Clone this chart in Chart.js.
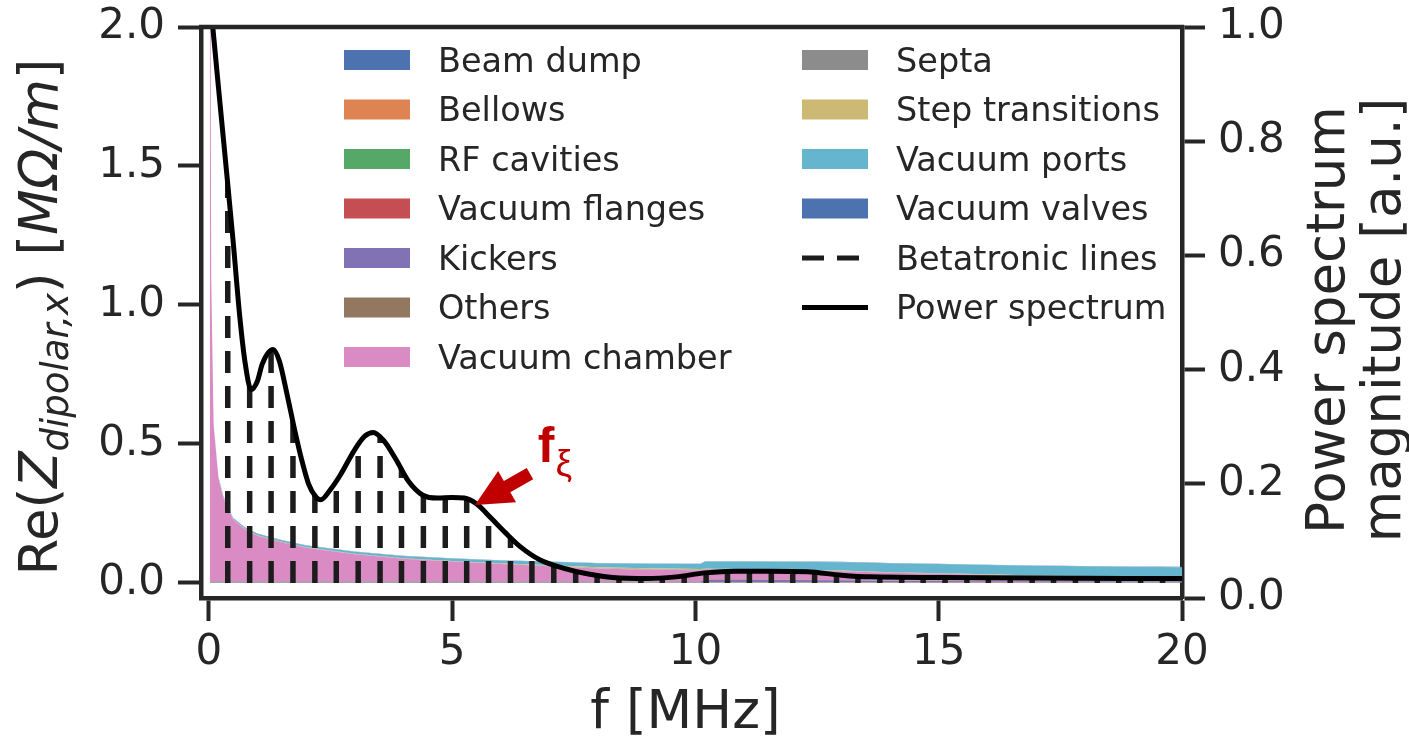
<!DOCTYPE html>
<html>
<head>
<meta charset="utf-8">
<script src="https://cdn.jsdelivr.net/npm/chart.js@4.4.1/dist/chart.umd.min.js"></script>
<style>
  html, body { margin: 0; padding: 0; background: #fff; }
  #wrap { width: 1409px; height: 740px; position: relative; }
</style>
</head>
<body>
<div id="wrap"><canvas id="chart"></canvas></div>
<script>
// impedance contributions, Re(Z) in MOhm/m, stacked in this order
const FREQ         = [0.02, 0.05, 0.1, 0.2, 0.3, 0.5, 0.75, 1, 1.5, 2, 3, 4, 5, 6, 7, 8, 9, 10.1, 10.2, 11, 12, 13, 14, 15, 16, 17, 18, 19, 20];
const BEAM_DUMP    = [0.001, 0.001, 0.001, 0.001, 0.001, 0.001, 0.001, 0.001, 0.001, 0.001, 0.001, 0.001, 0.001, 0.001, 0.001, 0.001, 0.001, 0.001, 0.001, 0.001, 0.001, 0.001, 0.001, 0.001, 0.001, 0.001, 0.001, 0.001, 0.001];
const BELLOWS      = [0.001, 0.001, 0.001, 0.001, 0.001, 0.001, 0.001, 0.001, 0.001, 0.001, 0.001, 0.001, 0.001, 0.001, 0.001, 0.001, 0.001, 0.001, 0.001, 0.001, 0.001, 0.001, 0.001, 0.001, 0.001, 0.001, 0.001, 0.001, 0.001];
const RF_CAVITIES  = [0.001, 0.001, 0.001, 0.001, 0.001, 0.001, 0.001, 0.001, 0.001, 0.001, 0.001, 0.001, 0.001, 0.001, 0.001, 0.001, 0.001, 0.001, 0.001, 0.001, 0.001, 0.001, 0.001, 0.001, 0.001, 0.001, 0.001, 0.001, 0.001];
const VAC_FLANGES  = [0.001, 0.001, 0.001, 0.001, 0.001, 0.001, 0.001, 0.001, 0.001, 0.001, 0.001, 0.001, 0.001, 0.001, 0.001, 0.001, 0.001, 0.001, 0.001, 0.001, 0.001, 0.001, 0.001, 0.001, 0.001, 0.001, 0.001, 0.001, 0.001];
const KICKERS      = [0.001, 0.001, 0.001, 0.001, 0.001, 0.001, 0.001, 0.001, 0.001, 0.001, 0.001, 0.001, 0.001, 0.001, 0.001, 0.001, 0.001, 0.001, 0.008, 0.008, 0.007, 0.006, 0.004, 0.003, 0.002, 0.002, 0.002, 0.002, 0.002];
const OTHERS       = [0.001, 0.001, 0.001, 0.001, 0.001, 0.001, 0.001, 0.001, 0.001, 0.001, 0.001, 0.001, 0.001, 0.001, 0.001, 0.001, 0.001, 0.001, 0.001, 0.001, 0.001, 0.001, 0.001, 0.001, 0.001, 0.001, 0.001, 0.001, 0.001];
const VAC_CHAMBER  = [3.2, 1.09, 0.56, 0.37, 0.30, 0.222, 0.186, 0.164, 0.140, 0.121, 0.097, 0.081, 0.071, 0.062, 0.054, 0.046, 0.042, 0.040, 0.035, 0.034, 0.032, 0.031, 0.028, 0.025, 0.022, 0.018, 0.016, 0.013, 0.012];
const SEPTA        = [0.001, 0.001, 0.001, 0.001, 0.001, 0.001, 0.001, 0.001, 0.001, 0.001, 0.001, 0.001, 0.001, 0.001, 0.001, 0.001, 0.001, 0.001, 0.001, 0.001, 0.001, 0.001, 0.001, 0.001, 0.001, 0.001, 0.001, 0.001, 0.001];
const STEP_TRANS   = [0.001, 0.001, 0.001, 0.001, 0.001, 0.001, 0.001, 0.001, 0.001, 0.001, 0.001, 0.001, 0.001, 0.002, 0.003, 0.004, 0.004, 0.003, 0.002, 0.002, 0.002, 0.002, 0.001, 0.001, 0.001, 0.001, 0.001, 0.001, 0.001];
const VAC_PORTS    = [0.002, 0.002, 0.003, 0.003, 0.004, 0.004, 0.005, 0.005, 0.006, 0.006, 0.007, 0.008, 0.009, 0.010, 0.012, 0.014, 0.016, 0.018, 0.026, 0.027, 0.029, 0.030, 0.032, 0.033, 0.034, 0.035, 0.035, 0.036, 0.036];
const VAC_VALVES   = [0.001, 0.001, 0.001, 0.001, 0.001, 0.001, 0.001, 0.001, 0.001, 0.001, 0.001, 0.001, 0.001, 0.001, 0.001, 0.001, 0.001, 0.001, 0.001, 0.001, 0.001, 0.001, 0.001, 0.001, 0.001, 0.001, 0.001, 0.001, 0.001];

const SERIES_NAMES  = ['Beam dump', 'Bellows', 'RF cavities', 'Vacuum flanges', 'Kickers', 'Others', 'Vacuum chamber', 'Septa', 'Step transitions', 'Vacuum ports', 'Vacuum valves'];
const SERIES_VALUES = [BEAM_DUMP, BELLOWS, RF_CAVITIES, VAC_FLANGES, KICKERS, OTHERS, VAC_CHAMBER, SEPTA, STEP_TRANS, VAC_PORTS, VAC_VALVES];
const SERIES_COLORS = ['#4C72B0', '#DD8452', '#55A868', '#C44E52', '#8172B3', '#937860', '#DA8BC3', '#8C8C8C', '#CCB974', '#64B5CD', '#4C72B0'];

// beam power spectrum, right axis (a.u.)
const SPEC_FREQ = [0.06, 0.2, 0.35, 0.5, 0.64, 0.75, 0.87, 1.0, 1.1, 1.32, 1.45, 1.6, 1.75, 1.9, 2.05, 2.2, 2.3, 2.5, 2.7, 3.0, 3.2, 3.38, 3.6, 3.85, 4.1, 4.4, 4.7, 5.0, 5.25, 5.5, 5.8, 6.1, 6.4, 6.8, 7.3, 7.8, 8.3, 9.0, 9.6, 10.2, 10.8, 11.5, 12.3, 13.0, 13.6, 15, 17, 20];
const SPEC_MAG  = [1.02, 0.893, 0.76, 0.625, 0.49, 0.41, 0.365, 0.38, 0.41, 0.435, 0.415, 0.36, 0.30, 0.245, 0.20, 0.177, 0.172, 0.19, 0.215, 0.26, 0.283, 0.29, 0.275, 0.242, 0.205, 0.18, 0.175, 0.176, 0.175, 0.165, 0.14, 0.114, 0.09, 0.067, 0.052, 0.042, 0.036, 0.034, 0.037, 0.044, 0.047, 0.047, 0.046, 0.040, 0.037, 0.036, 0.035, 0.034];

// betatronic lines (MHz)
const BETATRON_FREQ = [0.39, 0.84, 1.28, 1.73, 2.18, 2.62, 3.07, 3.52, 3.96, 4.41, 4.86, 5.30, 5.75, 6.20, 6.64, 7.09, 7.54, 7.98, 8.43, 8.88, 9.32, 9.77, 10.22, 10.66, 11.11, 11.56, 12.00, 12.45, 12.90, 13.34, 13.79, 14.24, 14.68, 15.13, 15.58, 16.02, 16.47, 16.92, 17.36, 17.81, 18.26, 18.70, 19.15, 19.60];

const X_TICKS  = [0, 5, 10, 15, 20];
const Y_TICKS  = [0, 0.5, 1.0, 1.5, 2.0];
const Y2_TICKS = [0, 0.2, 0.4, 0.6, 0.8, 1.0];

// f_xi marker: arrow tip / tail and label anchor in (MHz, right-axis) coords
const ARROW_TIP  = [5.47, 0.163];
const ARROW_TAIL = [6.6, 0.218];
const LABEL_AT   = [6.76, 0.238];

const INK = '#262626';
const FONT = '"DejaVu Sans"';

const datasets = SERIES_NAMES.map((name, i) => ({
  label: name,
  data: FREQ.map((f, k) => ({ x: f, y: SERIES_VALUES[i][k] })),
  yAxisID: 'y',
  backgroundColor: SERIES_COLORS[i],
  borderColor: SERIES_COLORS[i],
  borderWidth: 0,
  pointRadius: 0,
  fill: i === 0 ? 'origin' : '-1',
  order: 2
}));
datasets.unshift({
  label: 'Power spectrum',
  data: SPEC_FREQ.map((f, k) => ({ x: f, y: SPEC_MAG[k] })),
  yAxisID: 'y1',
  borderColor: '#000',
  borderWidth: 5,
  pointRadius: 0,
  fill: false,
  cubicInterpolationMode: 'monotone',
  order: 0
});

// dashed betatronic lines, clipped under the power spectrum curve
const betatronPlugin = {
  id: 'betatron',
  beforeDatasetDraw(chart, args) {
    if (args.meta.yAxisID !== 'y1') return;
    const { ctx, chartArea, scales } = chart;
    const pts = args.meta.data;
    args.meta.dataset.updateControlPoints(chartArea, 'x');
    const y0 = scales.y.getPixelForValue(0);
    ctx.save();
    ctx.beginPath();
    ctx.rect(chartArea.left, chartArea.top, chartArea.width, chartArea.height);
    ctx.clip();
    ctx.beginPath();
    ctx.moveTo(pts[0].x, pts[0].y);
    for (let i = 1; i < pts.length; i++) {
      const a = pts[i - 1], b = pts[i];
      if (a.cp2x !== undefined && b.cp1x !== undefined) ctx.bezierCurveTo(a.cp2x, a.cp2y, b.cp1x, b.cp1y, b.x, b.y);
      else ctx.lineTo(b.x, b.y);
    }
    ctx.lineTo(pts[pts.length - 1].x, y0);
    ctx.lineTo(pts[0].x, y0);
    ctx.closePath();
    ctx.clip();
    ctx.strokeStyle = '#1c1c1c';
    ctx.lineWidth = 5.5;
    ctx.setLineDash([22, 13]);
    BETATRON_FREQ.forEach(f => {
      const x = scales.x.getPixelForValue(f);
      ctx.beginPath();
      ctx.moveTo(x, y0);
      ctx.lineTo(x, chartArea.top);
      ctx.stroke();
    });
    ctx.restore();
  }
};

function richText(ctx, parts, x, y) {
  let w = 0;
  parts.forEach(p => { ctx.font = p.font; p.w = ctx.measureText(p.t).width; w += p.w; });
  let cx = x - w / 2;
  parts.forEach(p => { ctx.font = p.font; ctx.fillText(p.t, cx, y + (p.dy || 0)); cx += p.w; });
}

const decorPlugin = {
  id: 'decor',
  afterDraw(chart) {
    const { ctx, chartArea, scales } = chart;
    ctx.save();
    // top spine
    ctx.strokeStyle = INK;
    ctx.lineWidth = 4.5;
    ctx.beginPath();
    ctx.moveTo(chartArea.left - 2, chartArea.top);
    ctx.lineTo(chartArea.right + 2, chartArea.top);
    ctx.stroke();

    // axis titles
    ctx.fillStyle = INK;
    ctx.textBaseline = 'alphabetic';
    const T = 53;
    ctx.font = `${T}px ${FONT}`;
    ctx.textAlign = 'center';
    ctx.fillText('f [MHz]', (chartArea.left + chartArea.right) / 2 - 6, 728);
    ctx.textAlign = 'left';

    ctx.save();
    ctx.translate(57, 317);
    ctx.rotate(-Math.PI / 2);
    richText(ctx, [
      { t: 'Re(', font: `${T}px ${FONT}` },
      { t: 'Z', font: `italic ${T}px ${FONT}` },
      { t: 'dipolar,x', font: `italic ${Math.round(T * 0.7)}px ${FONT}`, dy: 11 },
      { t: ') [', font: `${T}px ${FONT}` },
      { t: 'MΩ/m', font: `italic ${T}px ${FONT}` },
      { t: ']', font: `${T}px ${FONT}` }
    ], 0, 0);
    ctx.restore();

    ctx.font = `${T}px ${FONT}`;
    ctx.textAlign = 'center';
    [['Power spectrum', 1344], ['magnitude [a.u.]', 1400]].forEach(([s, bx]) => {
      ctx.save();
      ctx.translate(bx, 320);
      ctx.rotate(-Math.PI / 2);
      ctx.fillText(s, 0, 0);
      ctx.restore();
    });

    // legend, two columns
    const items = chart.data.datasets.filter(d => d.yAxisID === 'y')
      .map(d => ({ label: d.label, kind: 'patch', color: d.backgroundColor }));
    items.push({ label: 'Betatronic lines', kind: 'dash' });
    items.push({ label: chart.data.datasets.find(d => d.yAxisID === 'y1').label, kind: 'line' });
    ctx.font = `33.5px ${FONT}`;
    ctx.textAlign = 'left';
    ctx.textBaseline = 'middle';
    items.forEach((it, i) => {
      const col = i < 7 ? 0 : 1;
      const row = col === 0 ? i : i - 7;
      const hx = col === 0 ? 344 : 802;
      const cy = 60 + row * 49.5;
      if (it.kind === 'patch') {
        ctx.fillStyle = it.color;
        ctx.fillRect(hx, cy - 10, 66, 20);
      } else {
        ctx.strokeStyle = it.kind === 'dash' ? '#1c1c1c' : '#000';
        ctx.lineWidth = 5;
        ctx.setLineDash(it.kind === 'dash' ? [22, 13] : []);
        ctx.beginPath();
        ctx.moveTo(hx, cy);
        ctx.lineTo(hx + 66, cy);
        ctx.stroke();
        ctx.setLineDash([]);
      }
      ctx.fillStyle = INK;
      ctx.fillText(it.label, hx + 94, cy + 3);
    });

    // f_xi arrow
    const px = p => [scales.x.getPixelForValue(p[0]), scales.y1.getPixelForValue(p[1])];
    const [tx, ty] = px(ARROW_TIP);
    const [ex, ey] = px(ARROW_TAIL);
    const len = Math.hypot(ex - tx, ey - ty);
    const ux = (ex - tx) / len, uy = (ey - ty) / len;
    const nx = -uy, ny = ux;
    const hl = 37, hw = 18, sw = 6.5;
    const bx = tx + ux * hl, by = ty + uy * hl;
    ctx.fillStyle = '#C00000';
    ctx.beginPath();
    ctx.moveTo(tx, ty);
    ctx.lineTo(bx + nx * hw, by + ny * hw);
    ctx.lineTo(bx + nx * sw, by + ny * sw);
    ctx.lineTo(ex + nx * sw, ey + ny * sw);
    ctx.lineTo(ex - nx * sw, ey - ny * sw);
    ctx.lineTo(bx - nx * sw, by - ny * sw);
    ctx.lineTo(bx - nx * hw, by - ny * hw);
    ctx.closePath();
    ctx.fill();

    const [lx, ly] = px(LABEL_AT);
    ctx.textBaseline = 'alphabetic';
    ctx.font = 'bold 50px "Liberation Sans"';
    ctx.fillText('f', lx, ly);
    const fw = ctx.measureText('f').width;
    ctx.font = '37px "Liberation Sans"';
    ctx.fillText('ξ', lx + fw + 1, ly + 14);
    ctx.restore();
  }
};

const tickFont = { family: 'DejaVu Sans', size: 42 };
const gridOpts = { drawOnChartArea: false, drawTicks: true, tickLength: 23, tickWidth: 4, tickColor: INK };
const borderOpts = { display: true, color: INK, width: 4.5 };
const noPad = s => { s.paddingTop = 0; s.paddingBottom = 0; s.paddingLeft = 0; s.paddingRight = 0; };

new Chart(document.getElementById('chart'), {
  type: 'line',
  data: { datasets },
  options: {
    responsive: true,
    maintainAspectRatio: false,
    animation: false,
    layout: { padding: { top: 27, left: 0, right: 0, bottom: 0 } },
    plugins: { legend: { display: false }, tooltip: { enabled: false } },
    scales: {
      x: {
        type: 'linear',
        min: -0.16,
        max: 20,
        afterBuildTicks: s => { s.ticks = X_TICKS.map(v => ({ value: v })); },
        afterFit: s => { s.height = 142; noPad(s); },
        ticks: { font: tickFont, color: INK, padding: 7, maxRotation: 0, autoSkip: false, callback: v => String(v) },
        grid: gridOpts,
        border: borderOpts
      },
      y: {
        type: 'linear',
        position: 'left',
        stacked: true,
        min: -0.054,
        max: 2.0,
        afterBuildTicks: s => { s.ticks = Y_TICKS.map(v => ({ value: v })); },
        afterFit: s => { s.width = 201; noPad(s); },
        ticks: { font: tickFont, color: INK, padding: 13, autoSkip: false, callback: v => v.toFixed(1) },
        grid: gridOpts,
        border: borderOpts
      },
      y1: {
        type: 'linear',
        position: 'right',
        min: 0,
        max: 1,
        afterBuildTicks: s => { s.ticks = Y2_TICKS.map(v => ({ value: v })); },
        afterFit: s => { s.width = 227; noPad(s); },
        ticks: { font: tickFont, color: INK, padding: 13, autoSkip: false, callback: v => v.toFixed(1) },
        grid: gridOpts,
        border: borderOpts
      }
    }
  },
  plugins: [betatronPlugin, decorPlugin]
});
</script>
</body>
</html>
